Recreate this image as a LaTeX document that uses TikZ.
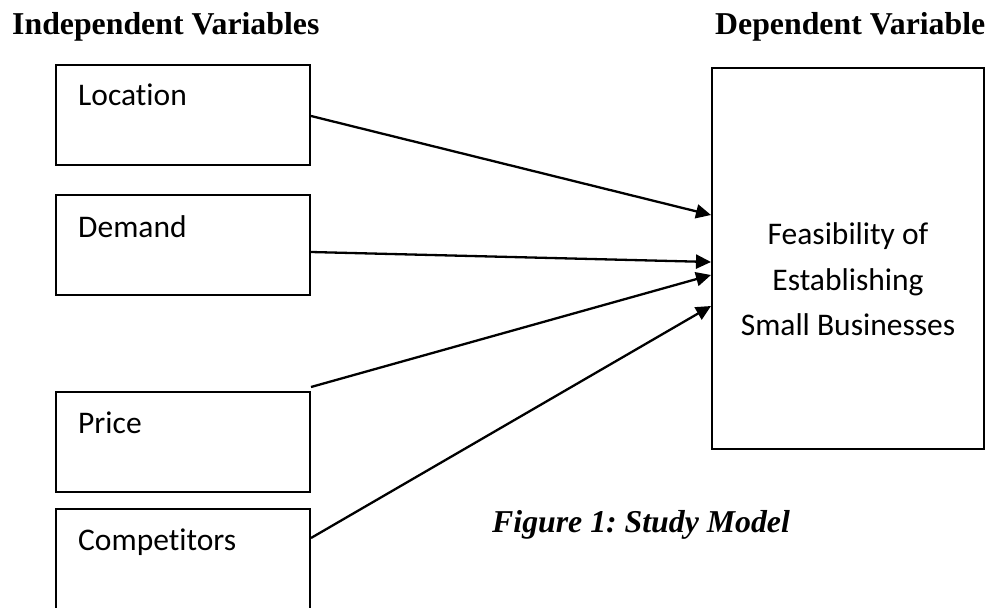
\documentclass[tikz,border=0pt]{standalone}
\usepackage{fontspec}
\setmainfont{Liberation Serif}
\newfontfamily\calib[Ligatures=NoCommon]{Carlito}
\usetikzlibrary{arrows.meta}
\frenchspacing
\begin{document}
\begin{tikzpicture}[x=1pt,y=-1pt,
  varbox/.style={draw, line width=2pt, minimum width=254pt, minimum height=100pt, inner sep=0pt},
  dvbox/.style={draw, line width=2pt, minimum width=272pt, minimum height=381pt, inner sep=0pt},
  boxtext/.style={inner sep=0pt, anchor=base west, font=\calib\fontsize{31.5}{38}\selectfont},
  dvtext/.style={inner sep=0pt, anchor=base, font=\calib\fontsize{31.5}{38}\selectfont},
  header/.style={inner sep=0pt, anchor=base west, font=\bfseries\fontsize{31.8}{38}\selectfont},
  captiontext/.style={inner sep=0pt, anchor=base west, font=\bfseries\itshape\fontsize{31.8}{38}\selectfont},
  conn/.style={line width=2.3pt, -{Triangle[length=15pt,width=14pt]}}]
\useasboundingbox (0,0) rectangle (992,607);
\fill[white] (0,0) rectangle (992,607);

\node[header] (hind) at (12,35) {Independent Variables};
\node[header] (hdep) at (715,35) {Dependent Variable};

\node[varbox] (loc) at (183,115) {};
\node[varbox] (dem) at (183,245) {};
\node[varbox] (pri) at (183,442) {};
\node[varbox] (comp) at (183,559) {};

\node[boxtext] (loct) at (78,106) {Location};
\node[boxtext] (demt) at (78,237) {Demand};
\node[boxtext] (prit) at (78,433) {Price};
\node[boxtext] (compt) at (78,550) {Competitors};

\node[dvbox] (dv) at (848,258.5) {};
\node[dvtext] (dv1) at (848,244) {Feasibility of};
\node[dvtext] (dv2) at (848,290) {Establishing};
\node[dvtext] (dv3) at (848,335) {Small Businesses};

\node[captiontext] (cap) at (492,532) {Figure 1: Study Model};

\draw[conn] ([yshift=-1pt]loc.east) -- ([yshift=43.5pt]dv.west);
\draw[conn] ([yshift=-7pt]dem.east) -- ([yshift=-3.5pt]dv.west);
\draw[conn] ([yshift=4pt]pri.north east) -- ([yshift=-16.5pt]dv.west);
\draw[conn] ([yshift=-30pt]comp.north east) -- ([yshift=-47.5pt]dv.west);
\end{tikzpicture}
\end{document}
